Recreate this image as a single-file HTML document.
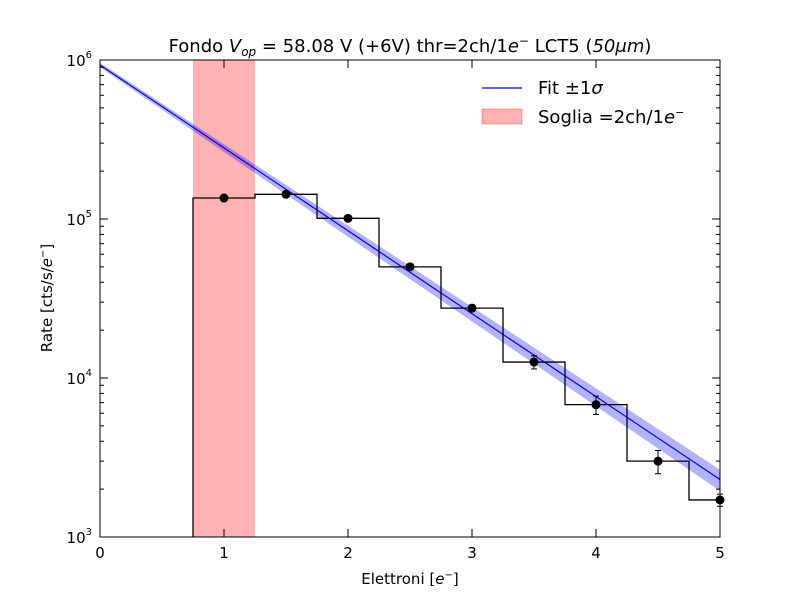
<!DOCTYPE html>
<html><head><meta charset="utf-8"><style>
body{margin:0;background:#fff}
svg text{font-family:"DejaVu Sans","Liberation Sans",sans-serif;fill:#000}
</style></head><body>
<svg id="chart" width="800" height="597">
<rect width="800" height="597" fill="#fff"/>
<g id="plot"></g>
<text x="410" y="52" font-size="18" text-anchor="middle">Fondo <tspan font-style="italic">V</tspan><tspan font-size="12" dy="4" font-style="italic">op</tspan><tspan dy="-4"> = 58.08 V (+6V) thr=2ch/1</tspan><tspan font-style="italic">e</tspan><tspan font-size="12" dy="-7">−</tspan><tspan dy="7"> LCT5 (</tspan><tspan font-style="italic">50μm</tspan><tspan>)</tspan></text>
<text x="410" y="584" font-size="15" text-anchor="middle">Elettroni [<tspan font-style="italic">e</tspan><tspan font-size="10" dy="-6">−</tspan><tspan dy="6">]</tspan></text>
<text transform="translate(52,298) rotate(-90)" font-size="15" text-anchor="middle">Rate [cts/s/<tspan font-style="italic">e</tspan><tspan font-size="10" dy="-6">−</tspan><tspan dy="6">]</tspan></text>
<g>
<line x1="482" y1="88" x2="522" y2="88" stroke="#0000ff" stroke-width="1.2"/>
<text x="538" y="94" font-size="18">Fit ±1<tspan font-style="italic">σ</tspan></text>
<rect x="482" y="109" width="40" height="15" fill="#ff0000" fill-opacity="0.3" stroke="#ff0000" stroke-opacity="0.3"/>
<text x="538" y="123" font-size="18">Soglia =2ch/1<tspan font-style="italic">e</tspan><tspan font-size="11" dy="-7">−</tspan></text>
</g>
</svg>
<script>
const xCenters=[1,1.5,2,2.5,3,3.5,4,4.5,5];
const rates=[135500,143000,101000,50000,27500,12600,6800,3000,1710];
const errs=[3000,3000,2500,1800,1300,1200,900,500,150];
const fitX=[0,5];
const fitY=[930000,2300];
const fitLo=[900000,1950];
const fitHi=[960000,2650];
const threshold=[0.75,1.25];
const xTicks=[0,1,2,3,4,5];
const yTicks=[3,4,5,6];
const X0=100,X1=720,Y0=537,Y1=60;
const sx=v=>X0+(v-0)/5*(X1-X0);
const sy=v=>Y0-(Math.log10(v)-3)/3*(Y0-Y1);
const NS="http://www.w3.org/2000/svg";
const g=document.getElementById('plot');
function mk(t,a,p){const e=document.createElementNS(NS,t);for(const k in a)e.setAttribute(k,a[k]);(p||g).appendChild(e);return e;}
let e;
e=mk('rect',{x:sx(threshold[0]),y:Y1,width:sx(threshold[1])-sx(threshold[0]),height:Y0-Y1,fill:'#ff0000','fill-opacity':0.3});


const pts=[];const N=20;
for(let i=0;i<=N;i++){const x=i/N*5;const f=i/N;const v=Math.pow(10,Math.log10(fitHi[0])+(Math.log10(fitHi[1])-Math.log10(fitHi[0]))*f);pts.push(sx(x)+','+sy(v));}
for(let i=N;i>=0;i--){const x=i/N*5;const f=i/N;const v=Math.pow(10,Math.log10(fitLo[0])+(Math.log10(fitLo[1])-Math.log10(fitLo[0]))*f);pts.push(sx(x)+','+sy(v));}
e=mk('polygon',{points:pts.join(' '),fill:'#0000ff','fill-opacity':0.3,stroke:'none'});


e=mk('line',{x1:sx(fitX[0]),y1:sy(fitY[0]),x2:sx(fitX[1]),y2:sy(fitY[1]),stroke:'#0000ff','stroke-width':1.2});


let d='M'+sx(xCenters[0]-0.25)+','+Y0;
xCenters.forEach((c,i)=>{const l=Math.max(0,c-0.25),r=Math.min(5,c+0.25);d+=' L'+sx(l)+','+sy(rates[i])+' L'+sx(r)+','+sy(rates[i]);});
e=mk('path',{d:d,fill:'none',stroke:'#000','stroke-width':1.3});


xCenters.forEach((c,i)=>{
 const x=sx(c);
 e=mk('line',{x1:x,x2:x,y1:sy(rates[i]+errs[i]),y2:sy(rates[i]-errs[i]),stroke:'#000'});
 
 
 [rates[i]+errs[i],rates[i]-errs[i]].forEach(v=>{mk('line',{x1:x-3,x2:x+3,y1:sy(v),y2:sy(v),stroke:'#000'});});
 e=mk('circle',{cx:x,cy:sy(rates[i]),r:4.5,fill:'#000'});
 
 
});
e=mk('rect',{x:X0,y:Y1,width:X1-X0,height:Y0-Y1,fill:'none',stroke:'#000','stroke-width':1});


xTicks.forEach(t=>{const x=sx(t);
 mk('line',{x1:x,x2:x,y1:Y0,y2:Y0-8,stroke:'#000'});mk('line',{x1:x,x2:x,y1:Y1,y2:Y1+8,stroke:'#000'});
 e=mk('text',{x:x,y:Y0+21,'font-size':15,'text-anchor':'middle'});e.textContent=t;
 
 
});
yTicks.forEach(t=>{const y=sy(Math.pow(10,t));
 mk('line',{x1:X0,x2:X0+8,y1:y,y2:y,stroke:'#000'});mk('line',{x1:X1,x2:X1-8,y1:y,y2:y,stroke:'#000'});
 if(t<6)for(let k=2;k<10;k++){const yy=sy(k*Math.pow(10,t));mk('line',{x1:X0,x2:X0+4,y1:yy,y2:yy,stroke:'#000'});mk('line',{x1:X1,x2:X1-4,y1:yy,y2:yy,stroke:'#000'});}
 e=mk('text',{x:X0-8,y:y+6,'font-size':15,'text-anchor':'end'});
 e.innerHTML='10<tspan font-size="10" dy="-8">'+t+'</tspan>';
 
 
});
</script>
</body></html>
